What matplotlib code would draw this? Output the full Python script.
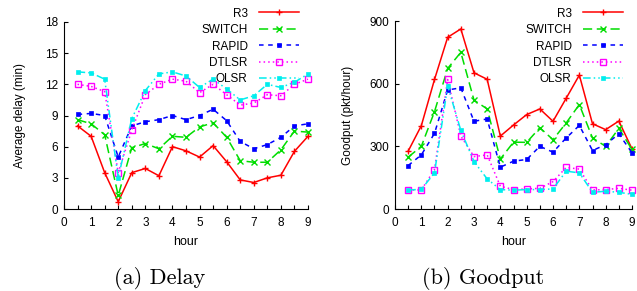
import matplotlib
matplotlib.use("Agg")
import matplotlib.pyplot as plt
from matplotlib.ticker import MultipleLocator

hours = [0.5, 1.0, 1.5, 2.0, 2.5, 3.0, 3.5, 4.0, 4.5, 5.0, 5.5, 6.0, 6.5, 7.0, 7.5, 8.0, 8.5, 9.0]
series = ["R3", "SWITCH", "RAPID", "DTLSR", "OLSR"]

delay_r3     = [8.0, 7.0, 3.5, 0.7, 3.5, 3.9, 3.2, 6.0, 5.6, 5.0, 6.1, 4.55, 2.8, 2.55, 3.0, 3.25, 5.55, 7.0]
delay_switch = [8.6, 8.2, 7.15, 1.3, 5.9, 6.3, 5.8, 7.0, 6.9, 7.9, 8.3, 6.9, 4.65, 4.5, 4.5, 5.7, 7.5, 7.4]
delay_rapid  = [9.1, 9.2, 9.0, 5.0, 8.0, 8.4, 8.6, 9.0, 8.6, 9.0, 9.6, 8.5, 6.5, 5.8, 6.2, 6.9, 8.0, 8.2]
delay_dtlsr  = [12.0, 11.8, 11.3, 3.5, 7.6, 11.0, 12.0, 12.5, 12.3, 11.2, 12.0, 11.0, 10.0, 10.2, 11.0, 10.9, 12.0, 12.5]
delay_olsr   = [13.2, 13.1, 12.5, 3.0, 8.7, 11.4, 13.0, 13.2, 12.8, 11.7, 12.5, 11.55, 10.5, 10.9, 12.0, 11.7, 12.2, 13.0]

good_r3     = [277, 399, 620, 822, 862, 652, 621, 349, 402, 452, 479, 420, 530, 641, 408, 380, 421, 288]
good_switch = [248, 300, 466, 673, 750, 521, 479, 239, 320, 319, 389, 332, 412, 500, 340, 300, 386, 285]
good_rapid  = [208, 259, 362, 570, 580, 420, 431, 200, 229, 237, 300, 272, 340, 400, 280, 308, 360, 269]
good_dtlsr  = [91, 91, 189, 620, 349, 251, 259, 109, 93, 96, 99, 131, 199, 191, 91, 93, 99, 90]
good_olsr   = [91, 94, 173, 589, 376, 227, 144, 93, 90, 93, 93, 96, 181, 173, 80, 85, 80, 70]

delay_data = [delay_r3, delay_switch, delay_rapid, delay_dtlsr, delay_olsr]
good_data = [good_r3, good_switch, good_rapid, good_dtlsr, good_olsr]

styles = [
    dict(color="#ff0000", linestyle="-", marker="+", markersize=5, mew=1.0),
    dict(color="#00dd00", linestyle=(0, (6, 3)), marker="x", markersize=4, mew=1.0),
    dict(color="#0000ff", linestyle=(0, (3, 3)), marker="s", markersize=3, mew=0.5),
    dict(color="#ff00ff", linestyle=(0, (1, 2)), marker="s", markersize=4, mfc="none", mew=1.0),
    dict(color="#00eeee", linestyle=(0, (5, 2, 1, 2, 1, 2)), marker="s", markersize=3.5, mew=0.5),
]

plt.rcParams["font.family"] = ["Liberation Sans", "DejaVu Sans"]
plt.rcParams["font.size"] = 8

fig = plt.figure(figsize=(6.37, 2.91), dpi=100)
ax1 = fig.add_axes([64/637, 1-209/291, (308-64)/637, (209-22)/291])
ax2 = fig.add_axes([395/637, 1-209/291, (632-395)/637, (209-21)/291])

def setup(ax, ymax, ystep, ylabel, ypad):
    ax.set_xlim(0, 9)
    ax.set_ylim(0, ymax)
    ax.xaxis.set_major_locator(MultipleLocator(1))
    ax.xaxis.set_minor_locator(MultipleLocator(0.5))
    ax.yaxis.set_major_locator(MultipleLocator(ystep))
    ax.spines["top"].set_visible(False)
    ax.spines["right"].set_visible(False)
    ax.tick_params(which="both", direction="in", length=3, width=0.8, labelsize=8.5, pad=4)
    ax.tick_params(axis="x", pad=6)
    ax.set_xlabel("hour", fontsize=9, labelpad=5)
    ax.set_ylabel(ylabel, fontsize=8.5, labelpad=ypad)

setup(ax1, 18, 3, "Average delay (min)", 14)
setup(ax2, 900, 300, "Goodput (pkt/hour)", 11)

for name, ys, st in zip(series, delay_data, styles):
    ax1.plot(hours, ys, label=name, lw=1.1, clip_on=False, **st)
for name, ys, st in zip(series, good_data, styles):
    ax2.plot(hours, ys, label=name, lw=1.1, clip_on=False, **st)

for ax, xr in ((ax1, 303/637), (ax2, 627/637)):
    ax.legend(loc="upper right", bbox_to_anchor=(xr, 1 - 4/291), bbox_transform=fig.transFigure,
              frameon=False, markerfirst=False, fontsize=8.5, handlelength=3.4,
              handletextpad=1.0, labelspacing=0.38, borderpad=0.3, borderaxespad=0)

fig.text(160/637, 1-278/291, "(a) Delay", family="cmr10", fontsize=16, ha="center", va="center")
fig.text(483/637, 1-278/291, "(b) Goodput", family="cmr10", fontsize=16, ha="center", va="center")

fig.savefig("out.png", dpi=100)
